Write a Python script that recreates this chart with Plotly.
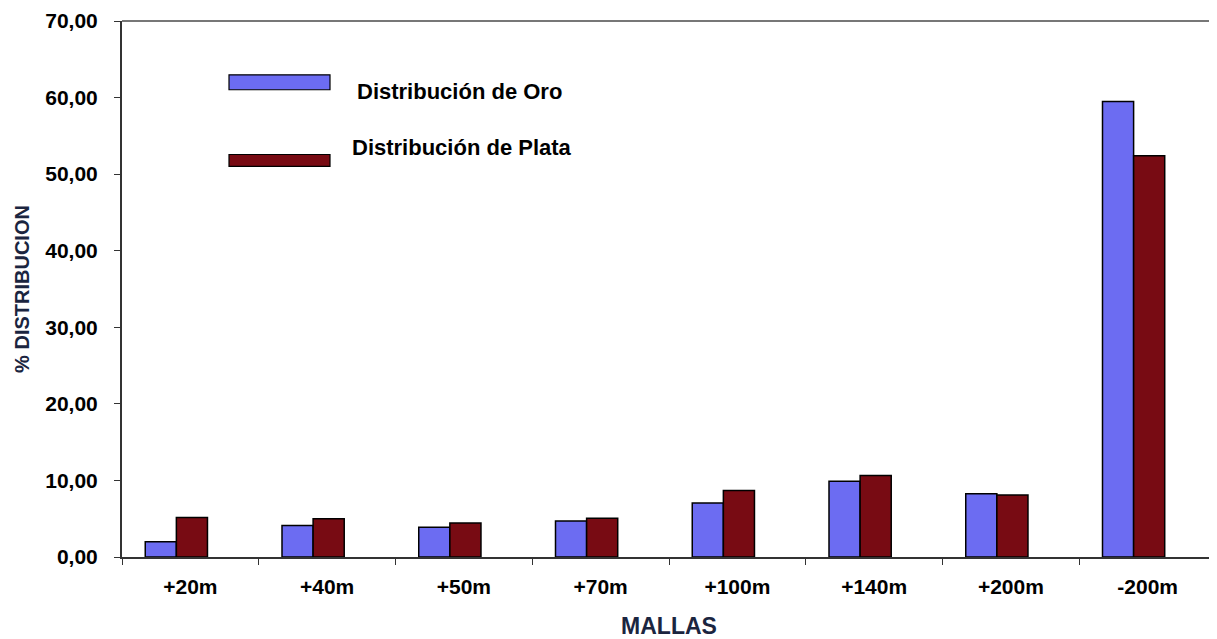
import plotly.graph_objects as go

mallas = ["+20m", "+40m", "+50m", "+70m", "+100m", "+140m", "+200m", "-200m"]
oro = [2.0, 4.1, 3.9, 4.7, 7.05, 9.9, 8.25, 59.5]
plata = [5.15, 5.0, 4.45, 5.05, 8.7, 10.65, 8.1, 52.4]

ORO_COLOR = "#6c6cf2"
PLATA_COLOR = "#780b13"
TITLE_COLOR = "#1b2540"
FONT = "Liberation Sans, Arial, sans-serif"

# the page body keeps its default 8px margin, so the figure starts at (8, 8)
BODY = 8
# plot area in page pixels (used only to place the hand-drawn legend)
L, R, T, B = 122, 1216, 19, 557


def px_x(x):
    return (x - L) / (R - L)


def px_y(y):
    return (B - y) / (B - T)


fig = go.Figure()
fig.add_trace(go.Bar(
    x=mallas, y=oro, name="Distribución de Oro",
    marker=dict(color=ORO_COLOR, line=dict(color="black", width=1.5)),
    width=0.2275, offset=-0.33,
))
fig.add_trace(go.Bar(
    x=mallas, y=plata, name="Distribución de Plata",
    marker=dict(color=PLATA_COLOR, line=dict(color="black", width=1.5)),
    width=0.2275, offset=-0.1025,
))

# legend drawn by hand (long flat swatches)
legend = [
    (ORO_COLOR, 73, 88, "Distribución de Oro", 355, 90),
    (PLATA_COLOR, 153, 165, "Distribución de Plata", 350, 146),
]
for color, y0, y1, label, tx, ty in legend:
    fig.add_shape(type="rect", xref="paper", yref="paper",
                  x0=px_x(229), x1=px_x(330), y0=px_y(y1), y1=px_y(y0),
                  fillcolor=color, line=dict(color="black", width=1.2))
    fig.add_annotation(xref="paper", yref="paper", x=px_x(tx), y=px_y(ty),
                       text="<b>" + label + "</b>", showarrow=False,
                       xanchor="left", yanchor="middle",
                       font=dict(family=FONT, size=22, color="black"))

# grey top border
fig.add_shape(type="line", xref="paper", yref="paper", x0=0, x1=1, y0=1, y1=1,
              line=dict(color="#777777", width=2))
fig.add_shape(type="line", xref="paper", yref="paper", x0=1, x1=1, y0=0, y1=1,
              line=dict(color="#e0e0e0", width=1))

fig.update_layout(
    width=1217 - BODY, height=639 - BODY,
    margin=dict(l=L - BODY, r=1217 - R, t=T - BODY, b=639 - B),
    plot_bgcolor="white", paper_bgcolor="white",
    showlegend=False,
    separators=",.",
    font=dict(family=FONT, color="black"),
    xaxis=dict(
        type="category", range=[-0.5, 7.5],
        showline=True, linecolor="#333333", linewidth=2,
        ticks="outside", tickson="boundaries", ticklen=6, tickcolor="#333333",
        ticklabelstandoff=10,
        tickfont=dict(family=FONT, size=21, color="black", weight="bold"),
        title=dict(text="<b>MALLAS</b>", standoff=22,
                   font=dict(family=FONT, size=23, color=TITLE_COLOR)),
        showgrid=False,
    ),
    yaxis=dict(
        range=[0, 70], dtick=10, tickformat=".2f",
        showline=True, linecolor="#333333", linewidth=2,
        ticks="outside", ticklen=6, tickcolor="#333333",
        ticklabelstandoff=12, ticklabeloverflow="allow",
        tickfont=dict(family=FONT, size=21, color="black", weight="bold"),
        title=dict(text="<b>% DISTRIBUCION</b>", standoff=10,
                   font=dict(family=FONT, size=20, color=TITLE_COLOR)),
        showgrid=False, zeroline=False,
    ),
)

fig.write_html("out.html")
